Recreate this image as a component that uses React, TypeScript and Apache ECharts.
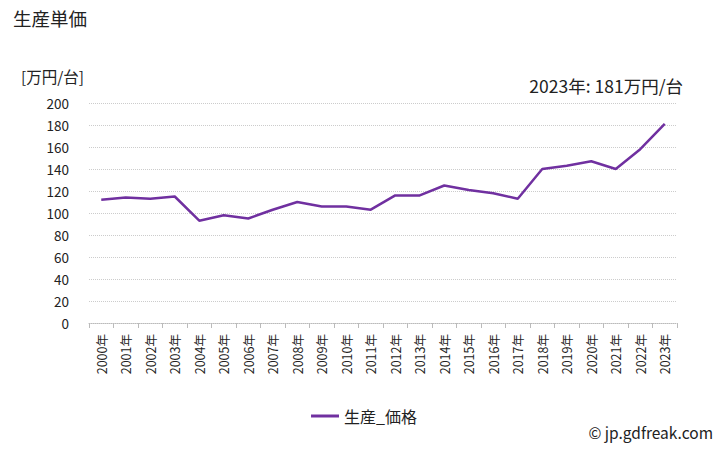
import React, { useEffect, useRef } from "react";
import * as echarts from "echarts";

const years = ["2000年","2001年","2002年","2003年","2004年","2005年","2006年","2007年","2008年","2009年","2010年","2011年","2012年","2013年","2014年","2015年","2016年","2017年","2018年","2019年","2020年","2021年","2022年","2023年"];
const prices = [112, 114, 113, 115, 93, 98, 95, 103, 110, 106, 106, 103, 116, 116, 125, 121, 118, 113, 140, 143, 147, 140, 158, 181];
const yTicks = [0, 20, 40, 60, 80, 100, 120, 140, 160, 180, 200];
const seriesName = "生産_価格";

export default function App() {
  const ref = useRef<HTMLDivElement>(null);
  useEffect(() => {
    if (!ref.current) return;
    const chart = echarts.init(ref.current, null, { renderer: "svg" });
    const font = "'Noto Sans CJK JP', 'Noto Sans', sans-serif";
    chart.setOption({
      animation: false,
      textStyle: { fontFamily: font },
      title: {
        text: "生産単価",
        left: 8,
        top: 4,
        textStyle: { fontSize: 18.5, fontWeight: "normal", color: "#222", fontFamily: font },
      },
      graphic: [
        { type: "text", left: 21, top: 68, style: { text: "[万円/台]", fontSize: 15.5, fill: "#222", fontFamily: font } },
        { type: "text", right: 45, top: 77, style: { text: "2023年: 181万円/台", fontSize: 17.5, fill: "#222", fontFamily: font } },
        { type: "text", right: 15, top: 424, style: { text: "© jp.gdfreak.com", fontSize: 15.5, fill: "#222", fontFamily: font } },
      ],
      legend: {
        data: [seriesName],
        bottom: 21,
        left: "center",
        itemWidth: 28,
        itemHeight: 3,
        icon: "rect",
        itemGap: 4,
        textStyle: { fontSize: 16, color: "#222", fontFamily: font },
      },
      grid: { left: 89, right: 51, top: 103, bottom: 127 },
      xAxis: {
        type: "category",
        data: years,
        boundaryGap: true,
        axisLine: { lineStyle: { color: "#bbb", type: "dotted" } },
        axisTick: { show: true, length: 5, lineStyle: { color: "#bbb" } },
        axisLabel: { rotate: 90, fontSize: 12.5, color: "#222", margin: 11, interval: 0, fontFamily: font },
      },
      yAxis: {
        type: "value",
        min: yTicks[0],
        max: yTicks[yTicks.length - 1],
        interval: 20,
        axisLine: { show: false },
        axisTick: { show: false },
        axisLabel: { fontSize: 13.5, color: "#222", margin: 20, fontFamily: font },
        splitLine: { lineStyle: { color: "#ccc", type: "dotted" } },
      },
      series: [
        {
          name: seriesName,
          type: "line",
          data: prices,
          symbol: "none",
          lineStyle: { color: "#7030A0", width: 2.5 },
          itemStyle: { color: "#7030A0" },
        },
      ],
    });
    return () => chart.dispose();
  }, []);
  return <div ref={ref} style={{ width: 728, height: 450, position: "absolute", left: 0, top: 0 }} />;
}
